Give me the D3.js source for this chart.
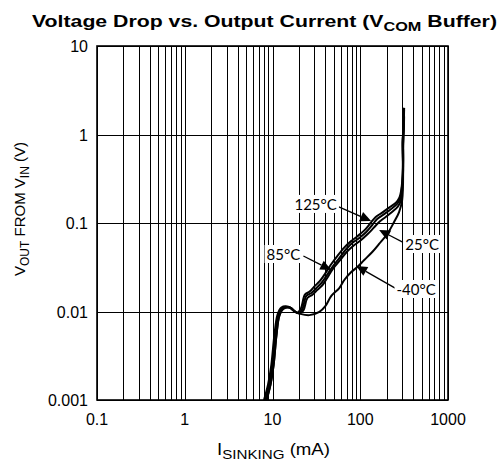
<!DOCTYPE html>
<html>
<head>
<meta charset="utf-8">
<script src="https://cdn.jsdelivr.net/npm/d3@7"></script>
<style>
body { margin: 0; background: #fff; }
text { font-family: "Liberation Sans", Arial, sans-serif; fill: #000; }
</style>
</head>
<body>
<svg width="500" height="468"></svg>
<script>
// values, [mA, V]
var xTicks = [0.1, 1, 10, 100, 1000];
var xTickLabels = ["0.1", "1", "10", "100", "1000"];
var yTicks = [0.001, 0.01, 0.1, 1, 10];
var yTickLabels = ["0.001", "0.01", "0.1", "1", "10"];

var t125 = [[8.0,0.001],[8.9,0.0015],[9.7,0.0025],[10.5,0.0054],[11.4,0.0092],[12.6,0.0111],[15.2,0.0113],[17.3,0.0102],[19.2,0.0097],[21.2,0.011],[23.4,0.0155],[26.5,0.0168],[30,0.0192],[34.5,0.022],[39.5,0.0265],[46,0.0335],[55,0.0425],[66,0.053],[78,0.062],[93,0.071],[112,0.083],[131,0.1],[150,0.117],[178,0.131],[215,0.15],[255,0.17],[280,0.195],[297,0.26],[306,0.5],[303,0.75],[310,1.2],[316,2.0]];
var t85 = [[8.3,0.001],[9.2,0.0015],[10,0.0025],[10.8,0.0054],[11.7,0.0091],[13,0.011],[15.6,0.0112],[17.8,0.0101],[19.7,0.0096],[21.9,0.0107],[24.3,0.015],[27.7,0.0162],[31.6,0.0184],[36.1,0.021],[41.1,0.0252],[48.1,0.0318],[57.7,0.0402],[69.3,0.0508],[81.1,0.0594],[97.5,0.0677],[117,0.0791],[137,0.0949],[156,0.111],[187,0.126],[225,0.144],[263,0.164],[285,0.19],[300,0.27],[308,0.52],[304,0.8],[310,1.1],[316,2.0]];
var t25 = [[8.6,0.001],[9.5,0.0015],[10.3,0.0025],[11.1,0.0054],[12,0.009],[13.4,0.0109],[16,0.011],[18.2,0.0099],[20.3,0.0095],[22.5,0.0103],[25,0.0142],[28.5,0.0155],[32.5,0.0176],[37,0.0198],[42,0.024],[49,0.0305],[59,0.038],[70,0.047],[83,0.055],[100,0.063],[120,0.074],[142,0.088],[163,0.102],[195,0.117],[232,0.134],[268,0.153],[290,0.18],[302,0.26],[310,0.6],[306,0.9],[312,1.2],[316,1.9]];
var tm40 = [[8.5,0.001],[9.5,0.0015],[10.3,0.0025],[11.1,0.0054],[12,0.0091],[13.3,0.0107],[16,0.011],[18.2,0.0099],[20.8,0.0094],[26.3,0.0091],[34.2,0.0099],[40,0.0115],[46.8,0.015],[57.7,0.0184],[65.8,0.0227],[79,0.0279],[92.5,0.0318],[111,0.0382],[137,0.047],[164,0.058],[203,0.0751],[243,0.1026],[277,0.133],[300,0.18],[308,0.4],[305,0.6],[312,0.9],[316,1.6]];

var series = [t125, t85, t25, tm40];

// label text, label centre, arrow start, arrow tip (data units)
var notes = [
  {text: "125°C", at: [31, 0.16],    from: [57, 0.152],  to: [133, 0.105]},
  {text: "25°C",  at: [507, 0.0564], from: [308, 0.0604], to: [164, 0.0834]},
  {text: "85°C",  at: [13.3, 0.0435], from: [22.5, 0.0424], to: [46.8, 0.0294]},
  {text: "-40°C", at: [433, 0.0175], from: [250, 0.0184], to: [90, 0.0327]}
];

var svg = d3.select("svg"),
    margin = {top: 46, right: 52, bottom: 68, left: 97},
    width = 500 - margin.left - margin.right,
    height = 468 - margin.top - margin.bottom;

var x = d3.scaleLog().domain([0.1, 1000]).range([0, width]);
var y = d3.scaleLog().domain([0.001, 10]).range([height, 0]);

var g = svg.append("g")
    .attr("transform", "translate(" + margin.left + "," + margin.top + ")");

// grid: every minor step on x, decades only on y
g.append("g").selectAll("line")
  .data(x.ticks())
  .enter().append("line")
    .attr("x1", function(d) { return Math.round(x(d)) + 0.5; })
    .attr("x2", function(d) { return Math.round(x(d)) + 0.5; })
    .attr("y1", 0).attr("y2", height)
    .attr("stroke", "#000").attr("stroke-width", 1);

g.append("g").selectAll("line")
  .data(yTicks)
  .enter().append("line")
    .attr("x1", 0).attr("x2", width)
    .attr("y1", function(d) { return Math.round(y(d)) + 0.5; })
    .attr("y2", function(d) { return Math.round(y(d)) + 0.5; })
    .attr("stroke", "#000").attr("stroke-width", 1);

g.append("rect")
    .attr("width", width).attr("height", height)
    .attr("fill", "none").attr("stroke", "#000").attr("stroke-width", 1.6);

// tick labels
g.append("g").selectAll("text")
  .data(xTicks)
  .enter().append("text")
    .attr("x", function(d) { return x(d); })
    .attr("y", height + 25)
    .attr("text-anchor", "middle")
    .style("font-size", "16px")
    .text(function(d, i) { return xTickLabels[i]; });

g.append("g").selectAll("text")
  .data(yTicks)
  .enter().append("text")
    .attr("x", -9)
    .attr("y", function(d) { return y(d) + 6; })
    .attr("text-anchor", "end")
    .style("font-size", "16px")
    .text(function(d, i) { return yTickLabels[i]; });

// curves
var line = d3.line()
    .curve(d3.curveCatmullRom.alpha(0.5))
    .x(function(d) { return x(d[0]); })
    .y(function(d) { return y(d[1]); });

g.append("g").selectAll("path")
  .data(series)
  .enter().append("path")
    .attr("d", line)
    .attr("fill", "none")
    .attr("stroke", "#000")
    .attr("stroke-width", 2)
    .attr("stroke-linejoin", "round");

// annotations
var ann = g.append("g");
notes.forEach(function(n) {
  var x0 = x(n.from[0]), y0 = y(n.from[1]),
      x1 = x(n.to[0]), y1 = y(n.to[1]),
      a = Math.atan2(y1 - y0, x1 - x0),
      len = 11, w = 5;
  var bx = x1 - len * Math.cos(a), by = y1 - len * Math.sin(a);
  ann.append("line")
      .attr("x1", x0).attr("y1", y0).attr("x2", bx).attr("y2", by)
      .attr("stroke", "#000").attr("stroke-width", 1.3);
  ann.append("path")
      .attr("d", "M" + x1 + "," + y1 +
                 "L" + (bx + w * Math.sin(a)) + "," + (by - w * Math.cos(a)) +
                 "L" + (bx - w * Math.sin(a)) + "," + (by + w * Math.cos(a)) + "Z")
      .attr("fill", "#000");
  var t = ann.append("text")
      .attr("x", x(n.at[0])).attr("y", y(n.at[1]) + 5)
      .attr("text-anchor", "middle")
      .style("font-family", "Lato, sans-serif")
      .style("font-size", "15px")
      .text(n.text);
  var bb = t.node().getBBox();
  ann.insert("rect", function() { return t.node(); })
      .attr("x", bb.x - 2).attr("y", bb.y)
      .attr("width", bb.width + 4).attr("height", bb.height)
      .attr("fill", "#fff");
});

// title and axis titles
var title = svg.append("text")
    .attr("x", 32).attr("y", 27)
    .attr("textLength", 465)
    .attr("lengthAdjust", "spacingAndGlyphs")
    .style("font-size", "17px").style("font-weight", "bold");
title.append("tspan").text("Voltage Drop vs. Output Current (V");
title.append("tspan").attr("dy", 4).style("font-size", "13px").text("COM");
title.append("tspan").attr("dy", -4).text(" Buffer)");

var xl = svg.append("text")
    .attr("x", 217).attr("y", 455)
    .attr("textLength", 113)
    .attr("lengthAdjust", "spacingAndGlyphs")
    .style("font-size", "16px");
xl.append("tspan").text("I");
xl.append("tspan").attr("dy", 4).style("font-size", "13px").text("SINKING");
xl.append("tspan").attr("dy", -4).text(" (mA)");

var yl = svg.append("text")
    .attr("transform", "translate(25,209) rotate(-90)")
    .attr("text-anchor", "middle")
    .style("font-size", "15px");
yl.append("tspan").text("V");
yl.append("tspan").attr("dy", 4).style("font-size", "12px").text("OUT");
yl.append("tspan").attr("dy", -4).text(" FROM V");
yl.append("tspan").attr("dy", 4).style("font-size", "12px").text("IN");
yl.append("tspan").attr("dy", -4).text(" (V)");
</script>
</body>
</html>
